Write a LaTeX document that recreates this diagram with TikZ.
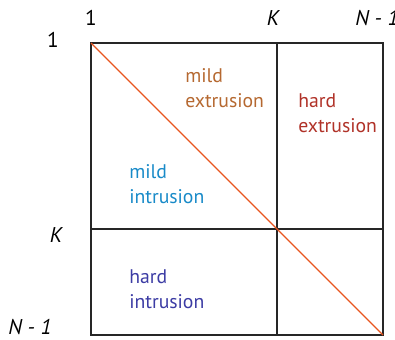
\documentclass[tikz,border=0pt]{standalone}
\usepackage{fontspec}
\setmainfont{PT Sans}
\begin{document}
\begin{tikzpicture}[x=0.75pt,y=-0.75pt,
  frame/.style={draw=black!85,line width=1.1pt},
  axis/.style={font=\fontsize{16}{18}\selectfont\itshape,inner sep=0pt},
  zone/.style={font=\fontsize{14.8}{18.75}\selectfont,align=left,inner sep=0pt,anchor=base west}]
\useasboundingbox (0,0) rectangle (395,339);
\coordinate (tl) at (91,43);
\coordinate (tr) at (383,43);
\coordinate (bl) at (91,335);
\coordinate (br) at (383,335);
\coordinate (kt) at (277,43);
\coordinate (kb) at (277,335);
\coordinate (kl) at (91,229);
\coordinate (kr) at (383,229);
\draw[frame] (tl) rectangle (br);
\draw[frame] (kt) -- (kb);
\draw[frame] (kl) -- (kr);
\draw[color={rgb,255:red,232;green,85;blue,30},line width=1pt] (tl) -- (br);
\node[axis,font=\fontsize{16}{18}\selectfont] (c1) at (91,18) {1};
\node[axis] (ck) at (273,18) {K};
\node[axis,anchor=west] (cn) at (355,18) {N - 1};
\node[axis,font=\fontsize{16}{18}\selectfont] (r1) at (53,40) {1};
\node[axis] (rk) at (56,235) {K};
\node[axis] (rn) at (30,327) {N - 1};
\node[zone,text={rgb,255:red,181;green,104;blue,48}] (me) at (185,107) {mild\\extrusion};
\node[zone,text={rgb,255:red,176;green,50;blue,40}] (he) at (298,132) {hard\\extrusion};
\node[zone,text={rgb,255:red,24;green,138;blue,200}] (mi) at (129,203) {mild\\intrusion};
\node[zone,text={rgb,255:red,60;green,60;blue,164}] (hi) at (129,308) {hard\\intrusion};
\end{tikzpicture}
\end{document}
